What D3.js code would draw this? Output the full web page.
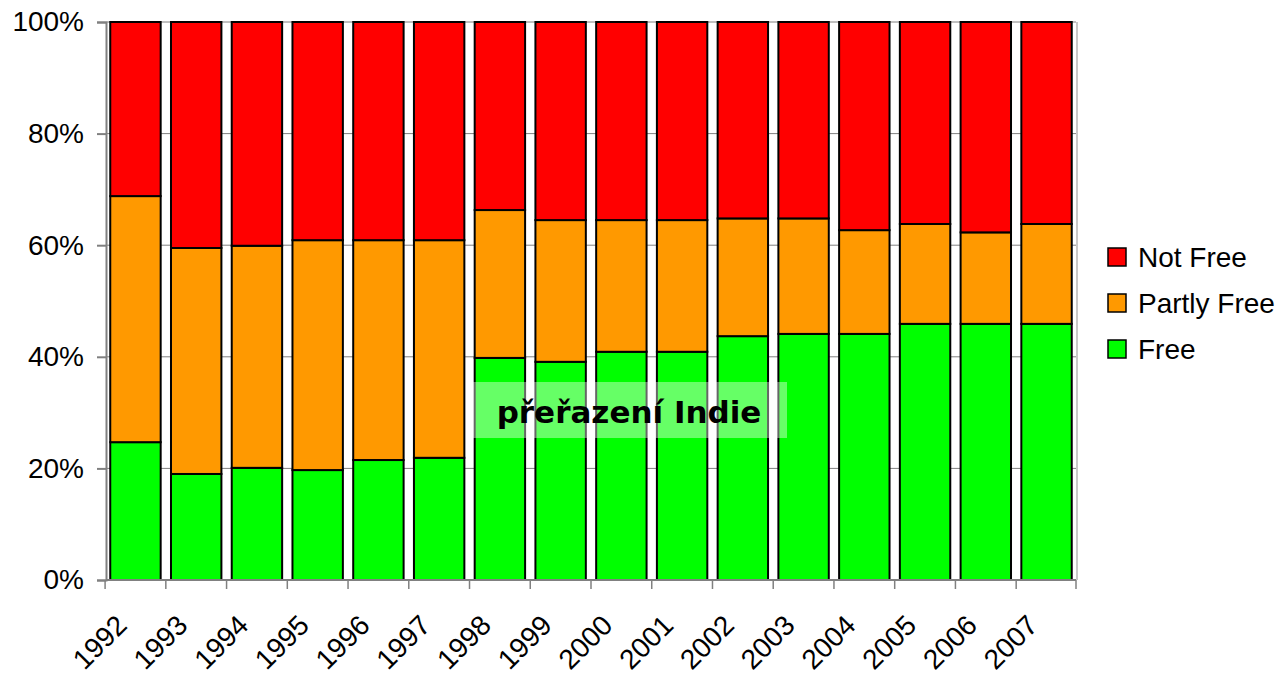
<!DOCTYPE html>
<html><head><meta charset="utf-8">
<script src="https://cdn.jsdelivr.net/npm/d3@7"></script>
<style>body{margin:0;background:#fff}svg{display:block}</style>
</head><body>
<svg id="c" width="1283" height="674"></svg>
<script>
const years = ["1992","1993","1994","1995","1996","1997","1998","1999","2000","2001","2002","2003","2004","2005","2006","2007"];
const free =   [24.7,19.0,20.1,19.7,21.5,21.9,39.8,39.1,40.9,40.9,43.7,44.1,44.1,45.9,45.9,45.9];
const partly = [44.1,40.5,39.8,41.2,39.4,39.0,26.5,25.4,23.6,23.6,21.1,20.7,18.6,17.9,16.4,17.9];
const notFree = free.map((f,i)=>100 - f - partly[i]);
const seriesNames = ["Free","Partly Free","Not Free"];
const seriesColors = ["#00FF00","#FF9900","#FF0000"];
const yTicks = [0,20,40,60,80,100];
const annotation = "přeřazení Indie";

const svg = d3.select("#c");
const L=106, R=1076, T=22, B=580;
const x = d3.scaleBand().domain(years).range([L,R]).paddingInner(0.17).paddingOuter(0.07);
const y = d3.scaleLinear().domain([0,100]).range([B,T]);

svg.append("g").selectAll("line").data(yTicks.filter(d=>d>0)).join("line")
  .attr("x1",L).attr("x2",R).attr("y1",d=>y(d)).attr("y2",d=>y(d))
  .attr("stroke","#808080").attr("stroke-width",1);
svg.append("line").attr("x1",R+1).attr("x2",R+1).attr("y1",T).attr("y2",B).attr("stroke","#c8c8c8").attr("stroke-width",2);

const table = years.map((yr,i)=>({year:yr,"Free":free[i],"Partly Free":partly[i],"Not Free":notFree[i]}));
const stacked = d3.stack().keys(seriesNames)(table);
svg.append("g").selectAll("g").data(stacked).join("g")
  .attr("fill",(d,i)=>seriesColors[i])
  .selectAll("rect").data(d=>d).join("rect")
  .attr("x",d=>x(d.data.year)).attr("width",x.bandwidth())
  .attr("y",d=>y(d[1])).attr("height",d=>y(d[0])-y(d[1]))
  .attr("stroke","#000").attr("stroke-width",2);

const yAxis = svg.append("g").attr("transform",`translate(${L},0)`)
  .call(d3.axisLeft(y).tickValues(yTicks).tickFormat(d=>d+"%").tickSize(9).tickPadding(13));
yAxis.select(".domain").attr("stroke","#808080").attr("stroke-width",2);
yAxis.selectAll(".tick line").attr("stroke","#808080").attr("stroke-width",2);
yAxis.selectAll("text").attr("font-family","Liberation Sans, Arial, sans-serif").attr("font-size",28).attr("fill","#000");

const step = x.step();
const xAxis = svg.append("g").attr("transform",`translate(0,${B})`);
xAxis.append("line").attr("x1",L).attr("x2",R).attr("stroke","#808080").attr("stroke-width",2);
const bounds = years.map(yr=>x(yr)-step*x.paddingInner()/2).concat([R]);
xAxis.selectAll("line.tk").data(bounds).join("line").attr("class","tk")
  .attr("x1",d=>d).attr("x2",d=>d).attr("y1",0).attr("y2",9).attr("stroke","#808080").attr("stroke-width",1.5);
xAxis.selectAll("text").data(years).join("text")
  .attr("transform",d=>`translate(${x(d)+x.bandwidth()/2-7},${47}) rotate(-45)`)
  .attr("text-anchor","end")
  .attr("font-family","Liberation Sans, Arial, sans-serif").attr("font-size",28).attr("fill","#000")
  .text(d=>d);

const ann = svg.append("g");
ann.append("rect").attr("x",473).attr("y",382).attr("width",314).attr("height",56).attr("fill","#fff").attr("fill-opacity",0.4);
ann.append("text").attr("x",629).attr("y",423).attr("text-anchor","middle")
  .attr("font-family","DejaVu Sans, Verdana, sans-serif").attr("font-weight","bold").attr("font-size",31)
  .attr("fill","#000").text(annotation);

const legOrder = ["Not Free","Partly Free","Free"];
const leg = svg.append("g").selectAll("g").data(legOrder).join("g")
  .attr("transform",(d,i)=>`translate(1108,${257+i*46})`);
leg.append("rect").attr("x",0).attr("y",-9).attr("width",18).attr("height",18)
  .attr("fill",d=>seriesColors[seriesNames.indexOf(d)]).attr("stroke","#000").attr("stroke-width",1.5);
leg.append("text").attr("x",30).attr("y",10).attr("font-family","Liberation Sans, Arial, sans-serif")
  .attr("font-size",28).attr("fill","#000").text(d=>d);
</script>
</body></html>
